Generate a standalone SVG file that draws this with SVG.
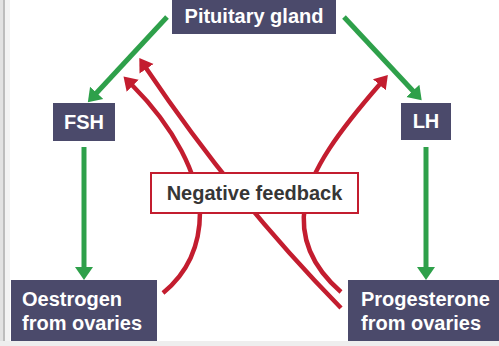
<svg xmlns="http://www.w3.org/2000/svg" width="499" height="346" viewBox="0 0 499 346">
<style>
.box{fill:#4b4a6b}
.lbl{font-family:"Liberation Sans",Arial,sans-serif;font-weight:bold;font-size:20px;fill:#ffffff}
.fb{font-family:"Liberation Sans",Arial,sans-serif;font-weight:bold;font-size:20px;fill:#363636}
.g{fill:none;stroke:#2ea04a;stroke-width:5}
.r{fill:none;stroke:#c31d2f;stroke-width:4.5}
</style>
<defs>
<marker id="ag" markerUnits="userSpaceOnUse" markerWidth="16" markerHeight="20" refX="1" refY="9" orient="auto" viewBox="0 0 16 18">
<path d="M0,0 L13,9 L0,18 z" fill="#2ea04a"/>
</marker>
<marker id="ar" markerUnits="userSpaceOnUse" markerWidth="16" markerHeight="20" refX="1" refY="8.5" orient="auto" viewBox="0 0 16 17">
<path d="M0,0 L13,8.5 L0,17 z" fill="#c31d2f"/>
</marker>
</defs>
<rect x="0" y="0" width="499" height="346" fill="#ffffff"/>
<rect x="0" y="0" width="3" height="346" fill="#e2e2e2"/>
<rect x="3" y="0" width="2" height="346" fill="#bdbdbd"/>
<rect x="5" y="0" width="5" height="346" fill="#f3f3f3"/>
<rect x="0" y="341" width="499" height="5" fill="#eeeeee"/>
<g id="connectors">
<path class="g" d="M167,17 L96,93.5" marker-end="url(#ag)"/>
<path class="g" d="M344,17 L413.5,91.5" marker-end="url(#ag)"/>
<path class="g" d="M84,147 L84,268" marker-end="url(#ag)"/>
<path class="g" d="M426,147 L426,268" marker-end="url(#ag)"/>
<path class="r" d="M163,293 C185,275 200,250 200,212 C198,175 175,128 132,85" marker-end="url(#ar)"/>
<path class="r" d="M341,308 Q235,200 146,68" marker-end="url(#ar)"/>
<path class="r" d="M341,292 C310,265 300,235 305,205 C310,170 340,130 380,84" marker-end="url(#ar)"/>
</g>
<g id="pituitary">
<rect class="box" x="172" y="0" width="164" height="34"/>
<text class="lbl" x="254" y="23" text-anchor="middle">Pituitary gland</text>
</g>
<g id="fsh">
<rect class="box" x="53" y="103" width="62" height="38"/>
<text class="lbl" x="84" y="129" text-anchor="middle">FSH</text>
</g>
<g id="lh">
<rect class="box" x="401" y="103" width="50" height="37"/>
<text class="lbl" x="426" y="128" text-anchor="middle">LH</text>
</g>
<g id="negative-feedback">
<rect x="151" y="173" width="207" height="40" fill="#ffffff" stroke="#c31d2f" stroke-width="2"/>
<text class="fb" x="254.5" y="200" text-anchor="middle">Negative feedback</text>
</g>
<g id="oestrogen">
<rect class="box" x="11" y="280" width="146" height="61"/>
<text class="lbl" x="22" y="306">Oestrogen</text>
<text class="lbl" x="22" y="330">from ovaries</text>
</g>
<g id="progesterone">
<rect class="box" x="348" y="280" width="151" height="61"/>
<text class="lbl" x="361" y="306">Progesterone</text>
<text class="lbl" x="361" y="330">from ovaries</text>
</g>
</svg>
